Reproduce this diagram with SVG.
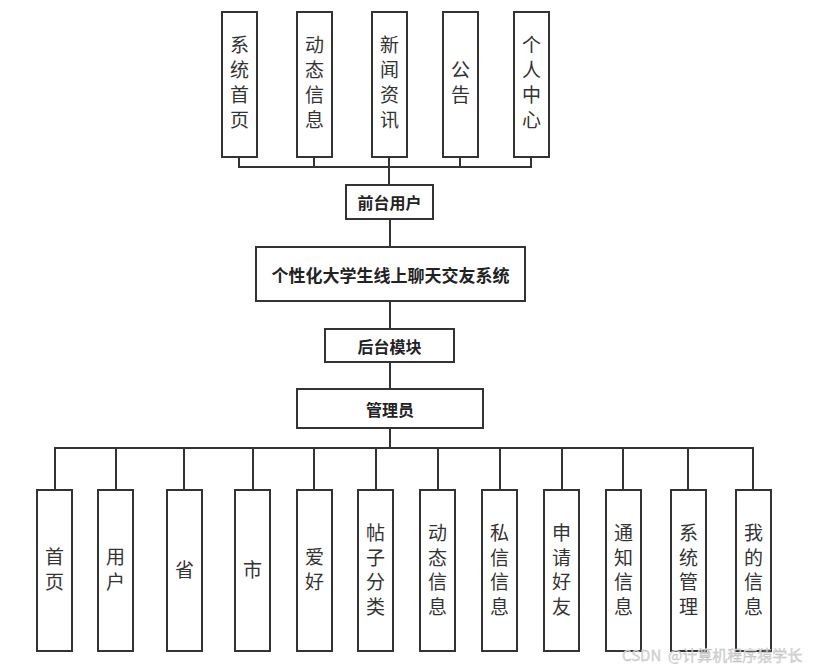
<svg xmlns="http://www.w3.org/2000/svg" width="814" height="670" viewBox="0 0 814 670">
<style>
.box{fill:#fff;stroke:#333;stroke-width:2}
.ln{fill:none;stroke:#333;stroke-width:2}
.v{font-family:"Noto Sans CJK SC","Noto Sans",sans-serif;font-size:19px;fill:#333;text-anchor:middle}
.h{font-family:"Noto Sans CJK SC","Noto Sans",sans-serif;font-size:16px;font-weight:bold;fill:#222;text-anchor:middle;dominant-baseline:central}
.wm{font-family:"Noto Sans CJK SC","Noto Sans",sans-serif;font-size:15px;fill:#d8d8d8;stroke:#bbb;stroke-width:0.3}
</style>
<rect width="814" height="670" fill="#fff"/>
<g id="connectors">
<path class="ln" d="M239 157V167H531V157M314 157V167M389 157V185M460 157V167"/>
<path class="ln" d="M390 219V247M390 301V329M390 362V389M390 428V448"/>
<path class="ln" d="M55 490V448H753V490M116 448V490M184 448V490M253 448V490M314 448V490M376 448V490M438 448V490M500 448V490M562 448V490M623 448V490M688 448V490"/>
</g>
<g id="n_sysHome"><rect class="box" x="222" y="12" width="35" height="145"/><text class="v"><tspan x="239.5" y="52">系</tspan><tspan x="239.5" y="77">统</tspan><tspan x="239.5" y="102">首</tspan><tspan x="239.5" y="127">页</tspan></text></g>
<g id="n_dynamic"><rect class="box" x="297" y="12" width="35" height="145"/><text class="v"><tspan x="314.5" y="52">动</tspan><tspan x="314.5" y="77">态</tspan><tspan x="314.5" y="102">信</tspan><tspan x="314.5" y="127">息</tspan></text></g>
<g id="n_news"><rect class="box" x="372" y="12" width="35" height="145"/><text class="v"><tspan x="389.5" y="52">新</tspan><tspan x="389.5" y="77">闻</tspan><tspan x="389.5" y="102">资</tspan><tspan x="389.5" y="127">讯</tspan></text></g>
<g id="n_notice"><rect class="box" x="443" y="12" width="35" height="145"/><text class="v"><tspan x="460.5" y="77">公</tspan><tspan x="460.5" y="102">告</tspan></text></g>
<g id="n_personal"><rect class="box" x="514" y="12" width="35" height="145"/><text class="v"><tspan x="531.5" y="52">个</tspan><tspan x="531.5" y="77">人</tspan><tspan x="531.5" y="102">中</tspan><tspan x="531.5" y="127">心</tspan></text></g>
<g id="n_front"><rect class="box" x="346" y="185" width="87" height="34"/><text class="h" x="389.5" y="202">前台用户</text></g>
<g id="n_system"><rect class="box" x="256" y="247" width="269" height="54"/><text class="h" x="390.5" y="274" style="font-size:17px">个性化大学生线上聊天交友系统</text></g>
<g id="n_back"><rect class="box" x="325" y="329" width="129" height="33"/><text class="h" x="389.5" y="346">后台模块</text></g>
<g id="n_admin"><rect class="box" x="297" y="389" width="186" height="39"/><text class="h" x="390" y="408.5">管理员</text></g>
<g id="b_home"><rect class="box" x="37" y="490" width="35" height="161"/><text class="v"><tspan x="54.5" y="564">首</tspan><tspan x="54.5" y="589">页</tspan></text></g>
<g id="b_user"><rect class="box" x="98" y="490" width="35" height="161"/><text class="v"><tspan x="115.5" y="564">用</tspan><tspan x="115.5" y="589">户</tspan></text></g>
<g id="b_prov"><rect class="box" x="167" y="490" width="35" height="161"/><text class="v"><tspan x="184.5" y="577">省</tspan></text></g>
<g id="b_city"><rect class="box" x="235" y="490" width="35" height="161"/><text class="v"><tspan x="252.5" y="577">市</tspan></text></g>
<g id="b_hobby"><rect class="box" x="297" y="490" width="35" height="161"/><text class="v"><tspan x="314.5" y="564">爱</tspan><tspan x="314.5" y="589">好</tspan></text></g>
<g id="b_postcat"><rect class="box" x="358" y="490" width="35" height="161"/><text class="v"><tspan x="375.5" y="540">帖</tspan><tspan x="375.5" y="564.5">子</tspan><tspan x="375.5" y="589">分</tspan><tspan x="375.5" y="613.5">类</tspan></text></g>
<g id="b_dyn"><rect class="box" x="420" y="490" width="35" height="161"/><text class="v"><tspan x="437.5" y="540">动</tspan><tspan x="437.5" y="564.5">态</tspan><tspan x="437.5" y="589">信</tspan><tspan x="437.5" y="613.5">息</tspan></text></g>
<g id="b_pm"><rect class="box" x="482" y="490" width="35" height="161"/><text class="v"><tspan x="499.5" y="540">私</tspan><tspan x="499.5" y="564.5">信</tspan><tspan x="499.5" y="589">信</tspan><tspan x="499.5" y="613.5">息</tspan></text></g>
<g id="b_friend"><rect class="box" x="544" y="490" width="35" height="161"/><text class="v"><tspan x="561.5" y="540">申</tspan><tspan x="561.5" y="564.5">请</tspan><tspan x="561.5" y="589">好</tspan><tspan x="561.5" y="613.5">友</tspan></text></g>
<g id="b_notify"><rect class="box" x="606" y="490" width="35" height="161"/><text class="v"><tspan x="623.5" y="540">通</tspan><tspan x="623.5" y="564.5">知</tspan><tspan x="623.5" y="589">信</tspan><tspan x="623.5" y="613.5">息</tspan></text></g>
<g id="b_sysmgr"><rect class="box" x="671" y="490" width="35" height="161"/><text class="v"><tspan x="688.5" y="540">系</tspan><tspan x="688.5" y="564.5">统</tspan><tspan x="688.5" y="589">管</tspan><tspan x="688.5" y="613.5">理</tspan></text></g>
<g id="b_mine"><rect class="box" x="736" y="490" width="35" height="161"/><text class="v"><tspan x="753.5" y="540">我</tspan><tspan x="753.5" y="564.5">的</tspan><tspan x="753.5" y="589">信</tspan><tspan x="753.5" y="613.5">息</tspan></text></g>
<text class="wm" x="622" y="661" xml:space="preserve">CSDN  @计算机程序猿学长</text>
</svg>
